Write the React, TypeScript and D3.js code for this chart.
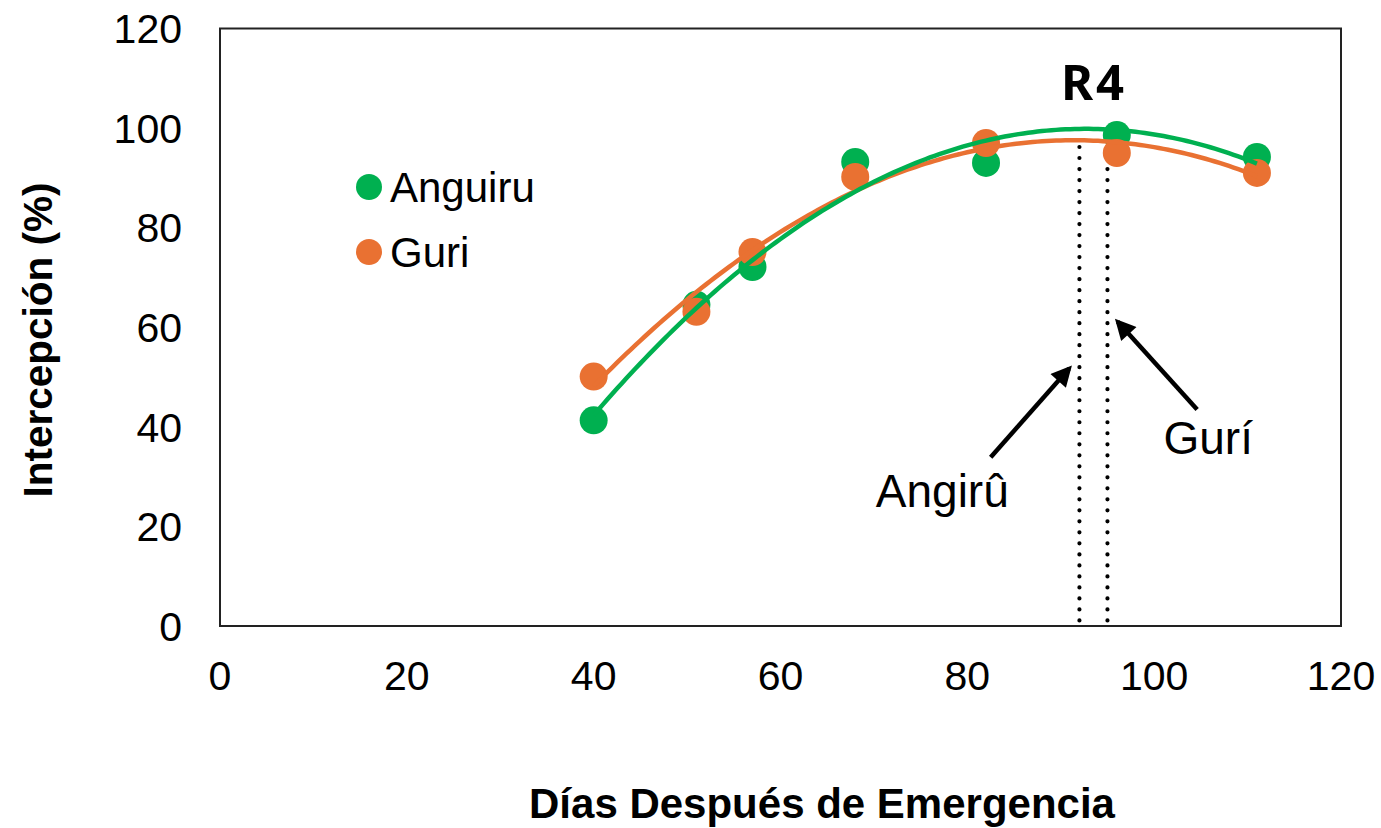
import React from "react";
import * as d3 from "d3";

const days = [40, 51, 57, 68, 82, 96, 111];
const anguiru = [41.3, 64.5, 72.1, 93.2, 93.0, 98.6, 94.2];
const guri = [50.1, 63.1, 75.1, 90.2, 97.0, 95.0, 91.0];
const xTicks = [0, 20, 40, 60, 80, 100, 120];
const yTicks = [0, 20, 40, 60, 80, 100, 120];
const seriesNames = ["Anguiru", "Guri"];
const colors = ["#00B050", "#E97132"];
const r4Lines = [92.0, 95.0];

const W = 1381, H = 828;
const x = d3.scaleLinear().domain([0, 120]).range([220, 1341]);
const y = d3.scaleLinear().domain([0, 120]).range([626, 28.5]);

function quadFit(xs: number[], ys: number[]) {
  let s0 = 0, s1 = 0, s2 = 0, s3 = 0, s4 = 0, t0 = 0, t1 = 0, t2 = 0;
  xs.forEach((xv, i) => {
    const yv = ys[i];
    s0 += 1; s1 += xv; s2 += xv * xv; s3 += xv ** 3; s4 += xv ** 4;
    t0 += yv; t1 += xv * yv; t2 += xv * xv * yv;
  });
  const M = [[s0, s1, s2, t0], [s1, s2, s3, t1], [s2, s3, s4, t2]];
  for (let i = 0; i < 3; i++) {
    for (let k = i + 1; k < 3; k++) {
      const f = M[k][i] / M[i][i];
      for (let j = i; j < 4; j++) M[k][j] -= f * M[i][j];
    }
  }
  const c = [0, 0, 0];
  for (let i = 2; i >= 0; i--) {
    let s = M[i][3];
    for (let j = i + 1; j < 3; j++) s -= M[i][j] * c[j];
    c[i] = s / M[i][i];
  }
  return (v: number) => c[0] + c[1] * v + c[2] * v * v;
}

const font = "'Liberation Sans', Arial, sans-serif";

export default function App() {
  const data = [anguiru, guri];
  const fits = data.map((d) => quadFit(days, d));
  const xsFine = d3.range(40, 111.01, 0.5);
  const line = (f: (v: number) => number) =>
    d3.line<number>().x((v) => x(v)).y((v) => y(f(v))).curve(d3.curveLinear)(xsFine) || "";

  const arrows = [
    { from: [82.5, 33.9], to: [90.9, 51.7], label: "Angirû", lx: 70.2, ly: 24.0 },
    { from: [104.6, 43.5], to: [96.1, 61.1], label: "Gurí", lx: 101.0, ly: 34.5 },
  ];

  return (
    <div style={{ position: "absolute", left: 0, top: 0 }}>
      <svg width={W} height={H} style={{ display: "block", background: "#fff" }}>
        <defs>
          <marker id="ah" viewBox="0 0 10 10" refX="8" refY="5" markerWidth="5.2" markerHeight="4.6" orient="auto" markerUnits="strokeWidth">
            <path d="M0,0 L10,5 L0,10 z" fill="#000" />
          </marker>
        </defs>
        {/* frame */}
        <rect x={x(0)} y={y(120)} width={x(120) - x(0)} height={y(0) - y(120)} fill="none" stroke="#222" strokeWidth={2} />

        {/* y tick labels */}
        {yTicks.map((t) => (
          <text key={"y" + t} x={182} y={y(t)} dy="0.36em" textAnchor="end" fontFamily={font} fontSize={41} fill="#000">
            {t}
          </text>
        ))}
        {/* x tick labels */}
        {xTicks.map((t) => (
          <text key={"x" + t} x={x(t)} y={690} textAnchor="middle" fontFamily={font} fontSize={41} fill="#000">
            {t}
          </text>
        ))}

        {/* axis titles */}
        <text transform={`translate(52,${340}) rotate(-90)`} textAnchor="middle" fontFamily={font} fontWeight="bold" fontSize={40.5} fill="#000">
          Intercepción (%)
        </text>
        <text x={822} y={818} textAnchor="middle" fontFamily={font} fontWeight="bold" fontSize={42} fill="#000">
          Días Después de Emergencia
        </text>

        {/* R4 dotted lines */}
        {r4Lines.map((v) => (
          <line key={"r" + v} x1={x(v)} x2={x(v)} y1={y(96.2)} y2={y(0)} stroke="#000" strokeWidth={4.2} strokeLinecap="round" strokeDasharray="0.01 11" />
        ))}

        {/* points */}
        {data.map((d, si) =>
          d.map((v, i) => (
            <circle key={si + "-" + i} cx={x(days[i])} cy={y(v)} r={14} fill={colors[si]} />
          ))
        )}
        {/* fitted curves */}
        <path d={line(fits[1])} fill="none" stroke={colors[1]} strokeWidth={4.5} />
        <path d={line(fits[0])} fill="none" stroke={colors[0]} strokeWidth={4.5} />

        {/* R4 label */}
        <text x={1094} y={100} textAnchor="middle" fontFamily="'Noto Sans', 'Open Sans', sans-serif" fontWeight="bold" fontSize={49} letterSpacing={3} fill="#000">
          R4
        </text>

        {/* arrows */}
        {arrows.map((a) => (
          <g key={a.label}>
            <line x1={x(a.from[0])} y1={y(a.from[1])} x2={x(a.to[0])} y2={y(a.to[1])} stroke="#000" strokeWidth={4.5} markerEnd="url(#ah)" />
            <text x={x(a.lx)} y={y(a.ly)} fontFamily={font} fontSize={46} fill="#000">
              {a.label}
            </text>
          </g>
        ))}

        {/* legend */}
        {seriesNames.map((n, i) => (
          <g key={n}>
            <circle cx={369} cy={187 + i * 65} r={13} fill={colors[i]} />
            <text x={390} y={202 + i * 65} fontFamily={font} fontSize={42} fill="#000">
              {n}
            </text>
          </g>
        ))}
      </svg>
    </div>
  );
}
